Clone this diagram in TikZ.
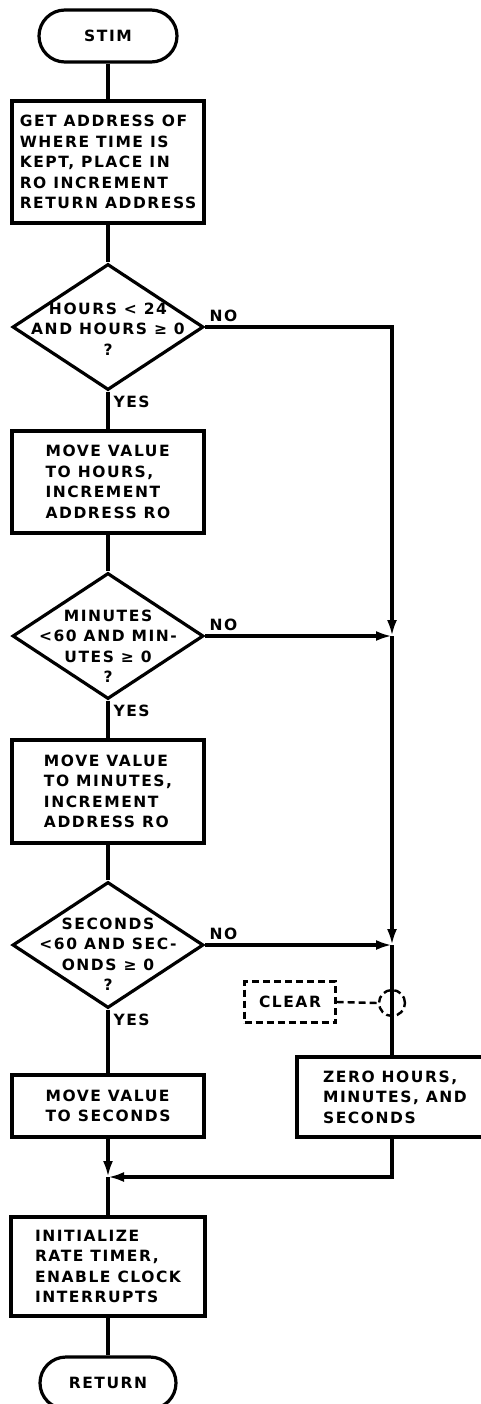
\documentclass[tikz,border=0pt]{standalone}
\usepackage{fontspec}
\setmainfont{DejaVu Sans}[LetterSpace=10]
\usetikzlibrary{shapes.geometric,arrows.meta}

\tikzset{
  term/.style={draw,rounded corners=26pt,minimum width=138pt,minimum height=52pt},
  proc/.style={draw,align=left,minimum width=192pt,inner sep=4pt},
  decide/.style={draw,diamond,minimum width=191pt,minimum height=126pt,inner sep=0pt},
  dtext/.style={align=center,inner sep=0pt},
  tag/.style={inner sep=1pt},
  optional/.style={draw,line width=2.4pt,dash pattern=on 7pt off 4pt},
}

\begin{document}
\begin{tikzpicture}[x=1pt,y=-1pt,line width=3.2pt,
  font=\fontsize{15.5}{20.5}\selectfont\bfseries,
  >={Latex[length=16pt,width=10pt]}]
\useasboundingbox (0,0) rectangle (481,1404);

% main column
\node[term] (stim) at (108,36) {STIM};
\node[proc,minimum height=122pt] (addr) at (108,162)
  {GET ADDRESS OF\\WHERE TIME IS\\KEPT, PLACE IN\\RO INCREMENT\\RETURN ADDRESS};
\node[decide] (hrs) at (108,327) {};
\node[dtext] (hrs-t) at (108,329) {HOURS < 24\\AND HOURS ≥ 0\\?};
\node[proc,minimum height=102pt] (hrsmv) at (108,482)
  {MOVE VALUE\\TO HOURS,\\INCREMENT\\ADDRESS RO};
\node[decide] (min) at (108,636) {};
\node[dtext] (min-t) at (108,646) {MINUTES\\<60 AND MIN-\\UTES ≥ 0\\?};
\node[proc,minimum height=103pt] (minmv) at (108,791.5)
  {MOVE VALUE\\TO MINUTES,\\INCREMENT\\ADDRESS RO};
\node[decide] (sec) at (108,945) {};
\node[dtext] (sec-t) at (108,954) {SECONDS\\<60 AND SEC-\\ONDS ≥ 0\\?};
\node[proc,minimum height=62pt] (secmv) at (108,1106)
  {MOVE VALUE\\TO SECONDS};
\node[proc,minimum width=194pt,minimum height=99pt] (init) at (108,1266.5)
  {INITIALIZE\\RATE TIMER,\\ENABLE CLOCK\\INTERRUPTS};
\node[term,minimum width=136pt] (ret) at (108,1383) {RETURN};

% error branch
\coordinate (j1) at (392,636);
\coordinate (j2) at (392,945);
\coordinate (j3) at (108,1177);
\node[optional,circle,minimum size=26pt,inner sep=0pt] (sw) at (392,1003) {};
\node[optional,minimum width=91pt,minimum height=41pt] (clr) at (290,1002) {CLEAR};
\node[proc,minimum width=196pt,minimum height=80pt] (zero) at (395,1097)
  {ZERO HOURS,\\MINUTES, AND\\SECONDS};

% labels
\node[tag,anchor=north west] (yes1) at ([xshift=3pt,yshift=-2pt]hrs.south) {YES};
\node[tag,anchor=north west] (yes2) at ([xshift=3pt,yshift=-2pt]min.south) {YES};
\node[tag,anchor=north west] (yes3) at ([xshift=3pt,yshift=-2pt]sec.south) {YES};
\node[tag,anchor=south west] (no1) at ([xshift=2pt,yshift=3pt]hrs.east) {NO};
\node[tag,anchor=south west] (no2) at ([xshift=2pt,yshift=3pt]min.east) {NO};
\node[tag,anchor=south west] (no3) at ([xshift=2pt,yshift=3pt]sec.east) {NO};

% connectors
\draw (stim) -- (addr);
\draw (addr) -- (hrs);
\draw (hrs) -- (hrsmv);
\draw (hrsmv) -- (min);
\draw (min) -- (minmv);
\draw (minmv) -- (sec);
\draw (sec) -- (secmv);
\draw[->] (secmv) -- (j3);
\draw (j3) -- (init);
\draw (init) -- (ret);
\draw[->] (hrs.east) -| (j1);
\draw[->] (min.east) -- (j1);
\draw[->] (j1) -- (j2);
\draw[->] (sec.east) -- (j2);
\draw (j2) -- (j2 |- zero.north);
\draw[->] (j2 |- zero.south) |- (j3);
\draw[optional] (clr.east) -- (sw.west);
\end{tikzpicture}
\end{document}
